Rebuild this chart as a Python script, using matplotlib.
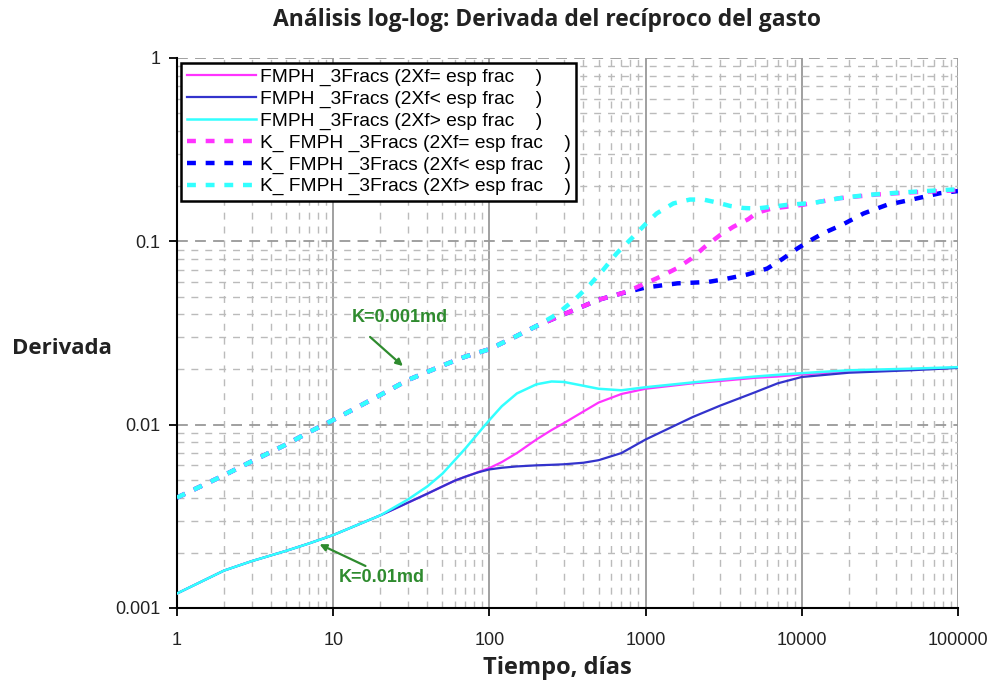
import matplotlib
matplotlib.use("Agg")
import matplotlib.pyplot as plt
from matplotlib.ticker import LogLocator, FixedLocator, FixedFormatter, NullFormatter

# ---------------- data ----------------
x_sol = [1, 2, 3, 5, 7, 10, 20, 30, 40, 50, 60, 70, 85, 100, 120, 150, 200, 250, 300, 400,
         500, 700, 1000, 2000, 3000, 5000, 7000, 10000, 20000, 50000, 100000]
y_sol_eq = [0.00120, 0.00160, 0.00180, 0.00205, 0.00225, 0.00250, 0.00320, 0.00375, 0.00420,
            0.00460, 0.00495, 0.00520, 0.00552, 0.00580, 0.00625, 0.00700, 0.00830, 0.00935,
            0.01020, 0.01180, 0.01320, 0.01470, 0.01570, 0.01680, 0.01730, 0.01800, 0.01830,
            0.01880, 0.01950, 0.02000, 0.02050]
y_sol_lt = [0.00120, 0.00160, 0.00180, 0.00205, 0.00225, 0.00250, 0.00320, 0.00375, 0.00420,
            0.00460, 0.00495, 0.00520, 0.00550, 0.00570, 0.00582, 0.00592, 0.00600, 0.00604,
            0.00608, 0.00620, 0.00640, 0.00700, 0.00830, 0.01100, 0.01270, 0.01500, 0.01680,
            0.01820, 0.01920, 0.01980, 0.02040]
y_sol_gt = [0.00120, 0.00160, 0.00180, 0.00205, 0.00225, 0.00250, 0.00320, 0.00390, 0.00460,
            0.00540, 0.00640, 0.00740, 0.00900, 0.01060, 0.01260, 0.01480, 0.01660, 0.01720,
            0.01710, 0.01630, 0.01570, 0.01540, 0.01600, 0.01700, 0.01760, 0.01830, 0.01870,
            0.01910, 0.01980, 0.02020, 0.02060]

x_dash_gt = [1, 2, 3, 5, 7, 10, 20, 30, 50, 70, 100, 150, 200, 270, 360, 440, 536, 653, 834,
             1016, 1178, 1506, 1923, 2342, 2851, 3470, 4223, 5140, 6255, 8000, 11850, 17570,
             26000, 40500, 76700, 100000]
y_dash_gt = [0.0040, 0.0053, 0.0063, 0.0078, 0.0091, 0.0106, 0.0145, 0.0175, 0.0210, 0.0235,
             0.0258, 0.0305, 0.0345, 0.0400, 0.0490, 0.0580, 0.0700, 0.0860, 0.1060, 0.1260,
             0.1420, 0.1610, 0.1690, 0.1690, 0.1630, 0.1560, 0.1520, 0.1510, 0.1540, 0.1580,
             0.1620, 0.1720, 0.1790, 0.1840, 0.1900, 0.1920]

x_dash_lt = [1, 2, 3, 5, 7, 10, 20, 30, 50, 70, 100, 150, 200, 300, 500, 700, 1000, 1600,
             2500, 3150, 4500, 6000, 7500, 9300, 11300, 13800, 18100, 24900, 35000, 49000,
             76700, 100000]
y_dash_lt = [0.0040, 0.0053, 0.0063, 0.0078, 0.0091, 0.0106, 0.0145, 0.0175, 0.0210, 0.0235,
             0.0258, 0.0305, 0.0345, 0.0400, 0.0480, 0.0520, 0.0560, 0.0590, 0.0600, 0.0620,
             0.0660, 0.0710, 0.0800, 0.0910, 0.1010, 0.1110, 0.1230, 0.1420, 0.1580, 0.1680,
             0.1830, 0.1880]

x_dash_eq = [1, 2, 3, 5, 7, 10, 20, 30, 50, 70, 100, 150, 200, 300, 500, 700, 800, 1236,
             1581, 1972, 2400, 2993, 3643, 4540, 5140, 6410, 10000, 17570, 30000, 50000, 100000]
y_dash_eq = [0.0040, 0.0053, 0.0063, 0.0078, 0.0091, 0.0106, 0.0145, 0.0175, 0.0210, 0.0235,
             0.0258, 0.0305, 0.0345, 0.0400, 0.0480, 0.0520, 0.0542, 0.0640, 0.0712, 0.0807,
             0.0935, 0.1080, 0.1200, 0.1320, 0.1430, 0.1510, 0.1580, 0.1720, 0.1800, 0.1850,
             0.1900]

labels = ["FMPH _3Fracs (2Xf= esp frac    )",
          "FMPH _3Fracs (2Xf< esp frac    )",
          "FMPH _3Fracs (2Xf> esp frac    )",
          "K_ FMPH _3Fracs (2Xf= esp frac    )",
          "K_ FMPH _3Fracs (2Xf< esp frac    )",
          "K_ FMPH _3Fracs (2Xf> esp frac    )"]

x_ticks = [1, 10, 100, 1000, 10000, 100000]
x_ticklabels = ["1", "10", "100", "1000", "10000", "100000"]
y_ticks = [0.001, 0.01, 0.1, 1]
y_ticklabels = ["0.001", "0.01", "0.1", "1"]

# ---------------- figure ----------------
fig = plt.figure(figsize=(9.92, 6.89), dpi=100)
ax = fig.add_axes([177/992, 1-608/689, (958-177)/992, (608-58)/689])
ax.set_xscale("log")
ax.set_yscale("log")
ax.set_xlim(1, 100000)
ax.set_ylim(0.001, 1)

c_mag = "#ff33ff"
c_blue = "#3333cc"
c_cyan = "#33ffff"
c_bdash = "#0000ff"

l1, = ax.plot(x_sol, y_sol_eq, color=c_mag, lw=1.6, zorder=4)
l2, = ax.plot(x_sol, y_sol_lt, color=c_blue, lw=1.6, zorder=4)
l3, = ax.plot(x_sol, y_sol_gt, color=c_cyan, lw=1.8, zorder=5)
dash = (0, (2.0, 2.2))
l5, = ax.plot(x_dash_lt, y_dash_lt, color=c_bdash, lw=3.2, ls=dash, zorder=3)
l4, = ax.plot(x_dash_eq, y_dash_eq, color=c_mag, lw=3.2, ls=dash, zorder=3)
l6, = ax.plot(x_dash_gt, y_dash_gt, color=c_cyan, lw=3.2, ls=dash, zorder=3)

# grid
ax.grid(True, which="major", axis="x", color="#999999", lw=1.3, ls="-", zorder=0)
ax.grid(True, which="major", axis="y", color="#999999", lw=1.3, ls=(0, (6, 4)), zorder=0)
ax.grid(True, which="minor", axis="both", color="#bbbbbb", lw=1.0, ls=(0, (5, 5)), zorder=0)
ax.set_axisbelow(True)

ax.xaxis.set_major_locator(FixedLocator(x_ticks))
ax.xaxis.set_major_formatter(FixedFormatter(x_ticklabels))
ax.yaxis.set_major_locator(FixedLocator(y_ticks))
ax.yaxis.set_major_formatter(FixedFormatter(y_ticklabels))
ax.xaxis.set_minor_locator(LogLocator(base=10, subs=range(2, 10), numticks=20))
ax.yaxis.set_minor_locator(LogLocator(base=10, subs=range(2, 10), numticks=20))
ax.xaxis.set_minor_formatter(NullFormatter())
ax.yaxis.set_minor_formatter(NullFormatter())
ax.tick_params(which="minor", length=0)
ax.tick_params(which="major", direction="out", length=6, width=1.3, color="black",
               labelsize=13, labelcolor="#222222")
ax.tick_params(axis="x", pad=11)
ax.tick_params(axis="y", pad=6)
for lab in ax.get_xticklabels() + ax.get_yticklabels():
    lab.set_family("Liberation Sans")

for s in ["top", "right"]:
    ax.spines[s].set_visible(False)
for s in ["left", "bottom"]:
    ax.spines[s].set_linewidth(1.5)
    ax.spines[s].set_color("black")

# legend
leg = ax.legend([l1, l2, l3, l4, l5, l6], labels, loc="upper left",
                bbox_to_anchor=(4/781, 1-5/550), fancybox=False, framealpha=1,
                edgecolor="black", handlelength=3.6, handletextpad=0.2,
                labelspacing=0.22, borderpad=0.3, borderaxespad=0,
                prop={"family": "Liberation Sans", "size": 13.8})
leg.get_frame().set_linewidth(1.8)
leg.set_zorder(10)

# annotations
green = "#2e8b2e"
ax.annotate("", xy=(28.8, 0.0204), xytext=(16.7, 0.0308),
            arrowprops=dict(arrowstyle="-|>", color=green, lw=1.6, mutation_scale=10), zorder=8)
ax.text(26.8, 0.0382, "K=0.001md", color=green, fontsize=13, fontweight="bold",
        family="Liberation Sans", ha="center", va="center", zorder=8)
ax.annotate("", xy=(7.88, 0.00226), xytext=(16.7, 0.00167),
            arrowprops=dict(arrowstyle="-|>", color=green, lw=1.6, mutation_scale=10), zorder=8)
ax.text(20.5, 0.00146, "K=0.01md", color=green, fontsize=13, fontweight="bold",
        family="Liberation Sans", ha="center", va="center", zorder=8)

# titles / labels
fig.text(547/992, 1-20/689, "Análisis log-log: Derivada del recíproco del gasto",
         ha="center", va="center", fontsize=16.5, fontweight="bold", family="Open Sans", color="#222222")
fig.text(557/992, 1-668/689, "Tiempo, días", ha="center", va="center",
         fontsize=17, fontweight="bold", family="Open Sans", color="#222222")
fig.text(62/992, 1-348/689, "Derivada", ha="center", va="center",
         fontsize=16, fontweight="bold", family="Open Sans", color="#222222")

fig.savefig("out.png", dpi=100)
